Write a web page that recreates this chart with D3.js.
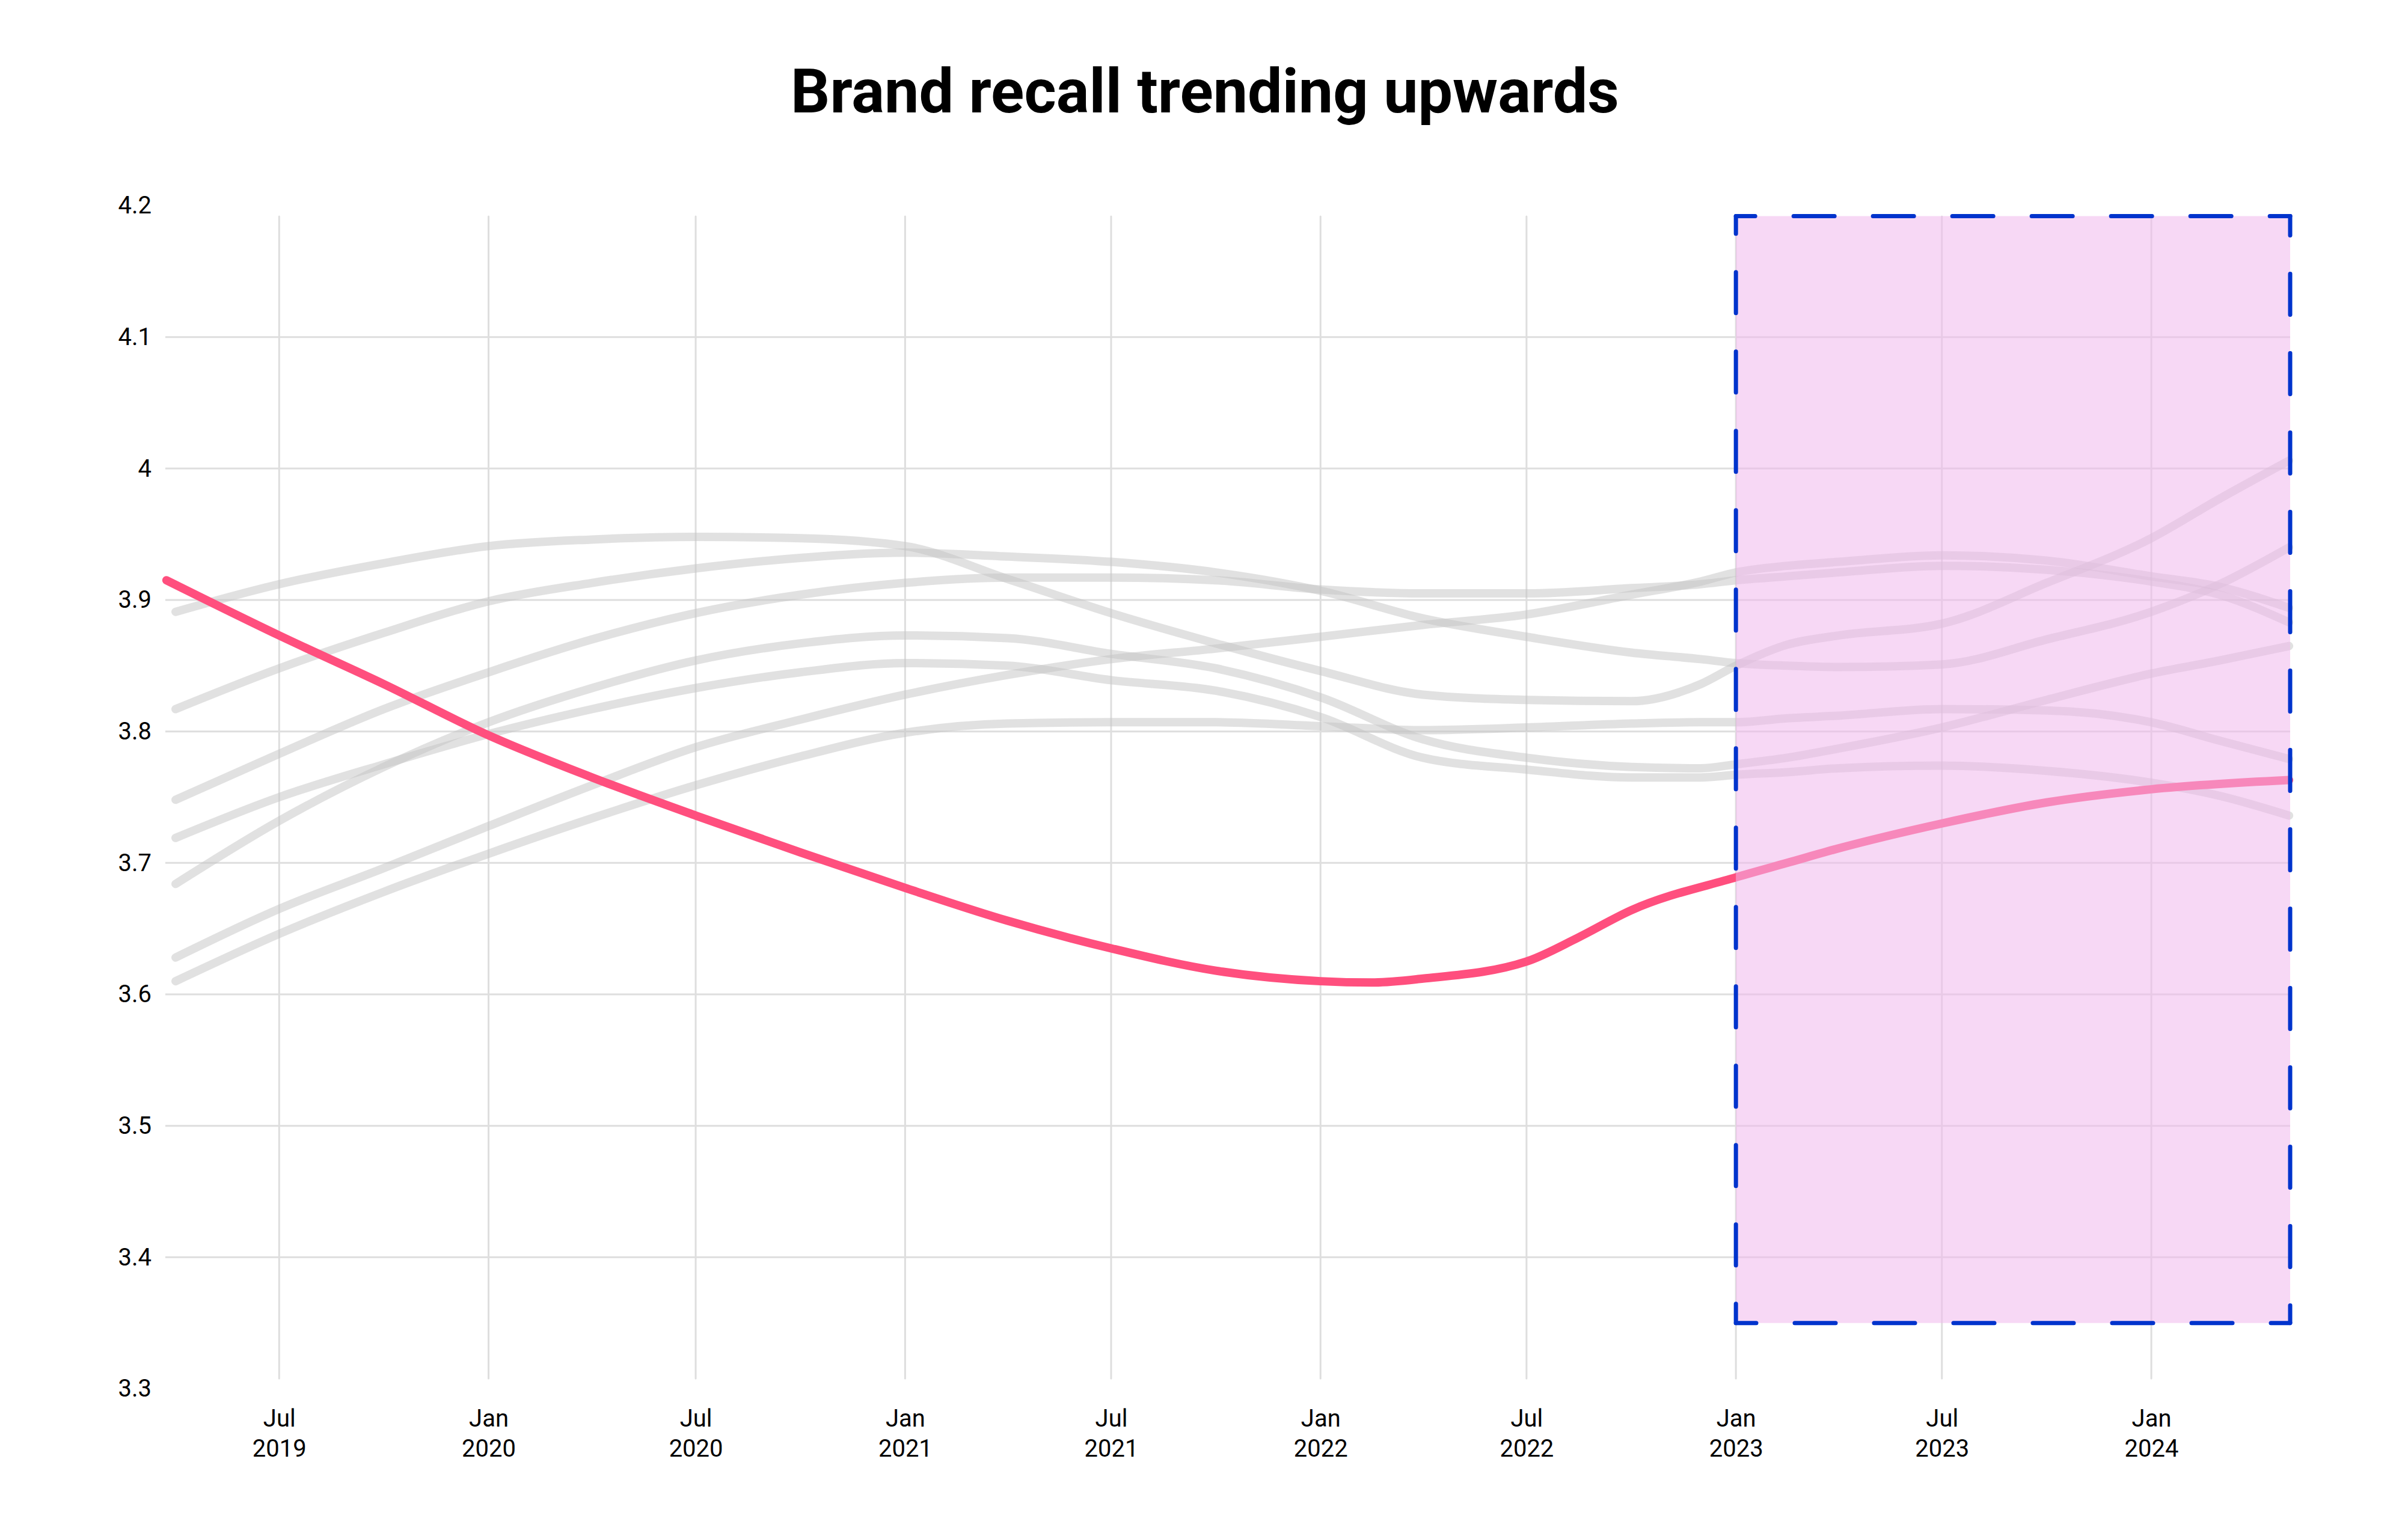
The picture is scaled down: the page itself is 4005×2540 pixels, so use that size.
<!DOCTYPE html>
<html>
<head>
<meta charset="utf-8">
<script src="https://cdn.jsdelivr.net/npm/d3@7"></script>
<style>
  body { margin: 0; background: #fff; }
  text { font-family: Roboto, "Noto Sans", sans-serif; fill: #000; }
</style>
</head>
<body>
<script>
// shared dates for the grey comparison lines
var greyDates = ["2019-04-01","2019-07-01","2019-10-01","2020-01-01","2020-04-01","2020-07-01",
  "2020-10-01","2021-01-01","2021-04-01","2021-07-01","2021-10-01","2022-01-01","2022-04-01",
  "2022-07-01","2022-10-01","2022-12-01","2023-01-01","2023-02-15","2023-04-01","2023-07-01",
  "2023-10-01","2024-01-01","2024-03-01","2024-05-01"];

var grey1 = [3.891,3.912,3.928,3.941,3.946,3.948,3.947,3.941,3.916,3.890,3.867,3.846,3.828,3.824,3.823,3.836,3.850,3.866,3.873,3.882,3.913,3.947,3.977,4.006];
var grey2 = [3.817,3.848,3.875,3.899,3.913,3.924,3.932,3.936,3.933,3.929,3.921,3.907,3.886,3.872,3.860,3.855,3.852,3.850,3.849,3.851,3.870,3.891,3.912,3.940];
var grey3 = [3.748,3.783,3.817,3.845,3.870,3.890,3.904,3.913,3.917,3.917,3.915,3.908,3.905,3.905,3.909,3.912,3.915,3.918,3.921,3.926,3.923,3.914,3.904,3.883];
var grey4 = [3.719,3.750,3.775,3.798,3.817,3.833,3.845,3.852,3.850,3.839,3.831,3.811,3.780,3.771,3.765,3.765,3.767,3.769,3.772,3.774,3.770,3.761,3.751,3.736];
var grey5 = [3.684,3.732,3.773,3.807,3.833,3.854,3.867,3.873,3.871,3.859,3.848,3.826,3.794,3.780,3.773,3.772,3.775,3.780,3.787,3.803,3.824,3.844,3.854,3.865];
var grey6 = [3.628,3.665,3.696,3.728,3.759,3.788,3.809,3.828,3.843,3.855,3.863,3.872,3.881,3.889,3.904,3.914,3.921,3.926,3.929,3.934,3.930,3.918,3.910,3.894];
var grey7 = [3.610,3.646,3.678,3.707,3.734,3.759,3.781,3.799,3.806,3.807,3.807,3.804,3.801,3.803,3.806,3.807,3.807,3.810,3.812,3.817,3.816,3.807,3.793,3.779];

// the highlighted brand
var brandDates = ["2019-03-24","2019-07-01","2019-10-01","2020-01-01","2020-04-01","2020-07-01",
  "2020-10-01","2021-01-01","2021-04-01","2021-07-01","2021-10-01","2022-01-01","2022-02-15",
  "2022-04-01","2022-07-01","2022-08-15","2022-10-01","2023-01-01","2023-02-15",
  "2023-04-01","2023-07-01","2023-10-01","2024-01-01","2024-05-01"];
var brandValues = [3.915,3.873,3.836,3.797,3.765,3.736,3.708,3.681,3.656,3.635,3.618,3.610,3.609,
  3.612,3.625,3.643,3.664,3.689,3.700,3.711,3.730,3.746,3.756,3.763];

var yTicks = [3.3,3.4,3.5,3.6,3.7,3.8,3.9,4,4.1,4.2];
var yGrid = [3.4,3.5,3.6,3.7,3.8,3.9,4,4.1];
var xTicks = ["2019-07-01","2020-01-01","2020-07-01","2021-01-01","2021-07-01",
  "2022-01-01","2022-07-01","2023-01-01","2023-07-01","2024-01-01"];

var highlightStart = "2023-01-01",
    highlightTop = 4.192,
    highlightBottom = 3.35;

var width = 4005,
    height = 2540;

var parse = d3.timeParse("%Y-%m-%d");

var svg = d3.select("body").append("svg")
    .attr("width", width)
    .attr("height", height);

var x = d3.scaleTime()
    .domain([parse("2019-03-23"), parse("2024-05-02")])
    .range([275, 3809]);

var y = d3.scaleLinear()
    .domain([3.3, 4.2])
    .range([2310, 342]);

// title
var title = svg.append("text")
    .attr("x", 2004)
    .attr("y", 187)
    .attr("text-anchor", "middle")
    .style("font-weight", 700)
    .style("font-size", "96px")
    .text("Brand recall trending upwards");
var tw = title.node().getComputedTextLength();
title.style("font-size", (96 * 1378 / tw) + "px");

// grid
svg.append("g").selectAll("line")
    .data(yGrid)
    .enter().append("line")
    .attr("x1", x.range()[0])
    .attr("x2", x.range()[1])
    .attr("y1", d => y(d))
    .attr("y2", d => y(d))
    .style("stroke", "#dedede")
    .style("stroke-width", 3);

svg.append("g").selectAll("line")
    .data(xTicks)
    .enter().append("line")
    .attr("x1", d => x(parse(d)))
    .attr("x2", d => x(parse(d)))
    .attr("y1", y(4.2) + 18)
    .attr("y2", y(3.3) - 17)
    .style("stroke", "#dedede")
    .style("stroke-width", 3)
    .style("stroke-linecap", "round");

// lines
var line = d3.line()
    .x(d => x(d.date))
    .y(d => y(d.value))
    .curve(d3.curveMonotoneX);

var greySeries = [grey1, grey2, grey3, grey4, grey5, grey6, grey7].map(function (vals) {
    return vals.map((v, i) => ({ date: parse(greyDates[i]), value: v }));
});

svg.append("g").selectAll("path")
    .data(greySeries)
    .enter().append("path")
    .attr("d", line)
    .style("fill", "none")
    .style("stroke", "#c3c3c3")
    .style("stroke-opacity", 0.5)
    .style("stroke-width", 14)
    .style("stroke-linecap", "round");

var brand = brandValues.map((v, i) => ({ date: parse(brandDates[i]), value: v }));

svg.append("path")
    .datum(brand)
    .attr("d", line)
    .style("fill", "none")
    .style("stroke", "#ff4f7e")
    .style("stroke-width", 14)
    .style("stroke-linecap", "round");

// highlight box over the last period
var bx0 = x(parse(highlightStart)),
    bx1 = x.range()[1],
    by0 = y(highlightTop),
    by1 = y(highlightBottom);

svg.append("rect")
    .attr("x", bx0)
    .attr("y", by0)
    .attr("width", bx1 - bx0)
    .attr("height", by1 - by0)
    .style("fill", "rgb(240,184,237)")
    .style("fill-opacity", 0.55);

var sides = [
    [bx0, by0, bx1, by0],
    [bx1, by0, bx1, by1],
    [bx1, by1, bx0, by1],
    [bx0, by1, bx0, by0]
];
svg.append("g").selectAll("line")
    .data(sides)
    .enter().append("line")
    .attr("x1", d => d[0])
    .attr("y1", d => d[1])
    .attr("x2", d => d[2])
    .attr("y2", d => d[3])
    .style("stroke", "#0033cc")
    .style("stroke-width", 7)
    .style("stroke-linecap", "round")
    .style("stroke-dasharray", "68,64")
    .style("stroke-dashoffset", 36);

// axes
var yAxis = d3.axisLeft(y)
    .tickValues(yTicks)
    .tickSize(0)
    .tickPadding(23)
    .tickFormat(d => String(+d.toFixed(1)));

svg.append("g")
    .attr("transform", "translate(" + x.range()[0] + ",0)")
    .call(yAxis)
    .call(g => g.select(".domain").remove())
    .selectAll("text")
    .attr("font-family", null)
    .style("font-size", "40px");

var fmtMonth = d3.timeFormat("%b"),
    fmtYear = d3.timeFormat("%Y");

var xAxis = d3.axisBottom(x)
    .tickValues(xTicks.map(parse))
    .tickSize(0)
    .tickFormat("");

var gx = svg.append("g")
    .attr("transform", "translate(0,2373)")
    .call(xAxis)
    .call(g => g.select(".domain").remove());

gx.selectAll(".tick text").remove();
gx.selectAll(".tick").each(function (d) {
    var t = d3.select(this).append("text")
        .attr("text-anchor", "middle")
        .style("font-size", "40px");
    t.append("tspan").attr("x", 0).attr("y", 0).text(fmtMonth(d));
    t.append("tspan").attr("x", 0).attr("y", 50).text(fmtYear(d));
});
</script>
</body>
</html>
